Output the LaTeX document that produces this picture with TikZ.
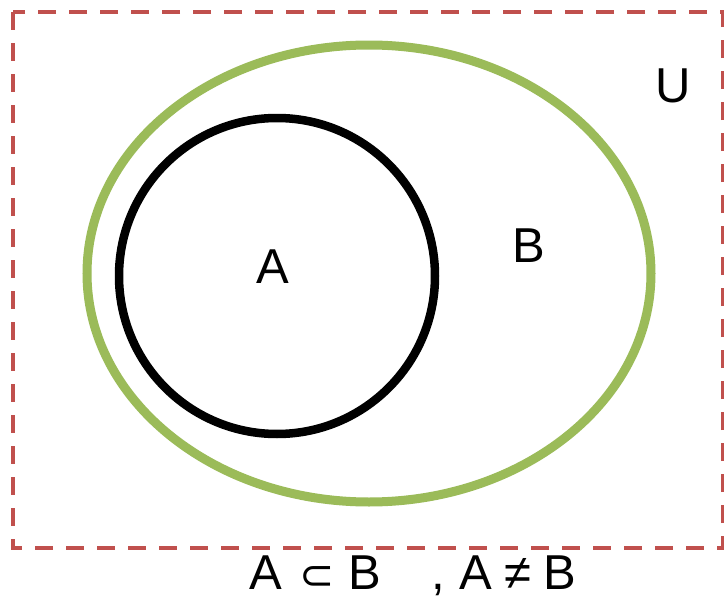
\documentclass[tikz,border=0pt]{standalone}
\usepackage{fontspec}
\setmainfont{Liberation Sans}
\newfontfamily\symfont{DejaVu Sans}
\definecolor{dashred}{RGB}{192,80,77}
\definecolor{setgreen}{RGB}{155,187,89}
\begin{document}
\begin{tikzpicture}[x=1pt,y=-1pt,
  lbl/.style={font=\fontsize{49}{55}\selectfont, inner sep=0pt, anchor=base},
  universe/.style={draw=dashred, line width=4pt, dash pattern=on 18pt off 13pt},
  setB/.style={draw=setgreen, line width=9pt},
  setA/.style={draw=black, line width=8.5pt}]
\useasboundingbox (0,0) rectangle (724,597);
\fill[white] (0,0) rectangle (724,597);
\draw[universe] (13,12) rectangle (723,548);
\draw[setB] (369,273.5) ellipse [x radius=282, y radius=228.5];
\draw[setA] (277,276) circle [radius=158];
\node[lbl] (U) at (673,102) {U};
\node[lbl] (B) at (529,262) {B};
\node[lbl] (A) at (273,283) {A};
\node[lbl] (r1) at (266,589) {A};
\node[lbl, font=\symfont\fontsize{42}{48}\selectfont] (r2) at (317,589) {⊂};
\node[lbl] (r3) at (365,589) {B};
\node[lbl] (r4) at (438,589) {,};
\node[lbl] (r5) at (476,589) {A};
\node[lbl] (r6) at (518,589) {≠};
\node[lbl] (r7) at (560,589) {B};
\end{tikzpicture}
\end{document}
